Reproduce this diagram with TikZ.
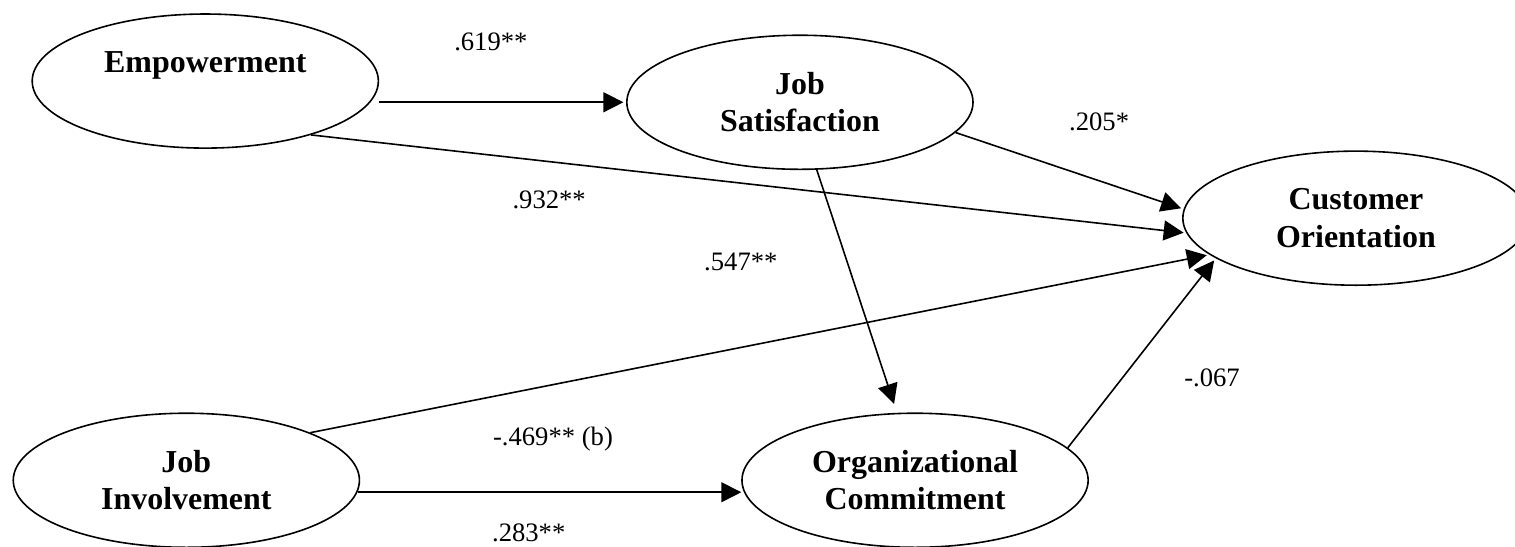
\documentclass[tikz,border=0pt]{standalone}
\usepackage{fontspec}
\setmainfont{Liberation Serif}
\usetikzlibrary{arrows.meta, shapes.geometric, positioning}

\begin{document}
\begin{tikzpicture}[shorten >=1pt, on grid, line width=0.6pt, >={Triangle[length=7.5pt, width=7.5pt]}, construct/.style={ellipse, draw, inner sep=0pt, minimum width=4.57cm, minimum height=1.77cm, align=center, font=\fontsize{12}{14}\selectfont\bfseries}, coef/.style={inner sep=0pt, font=\fontsize{10}{12}\selectfont}]

            \useasboundingbox (0,0) rectangle (20,-7.21);

            \node[construct] (Emp) at (2.71,-1.07) {Empowerment\\~};
            \node[construct, below right=0.28cm and 7.85cm of Emp] (JS) {Job\\Satisfaction};
            \node[construct, below right=1.53cm and 7.34cm of JS] (CO) {Customer\\Orientation};
            \node[construct, below left=5.27cm and 0.25cm of Emp] (JI) {Job\\Involvement};
            \node[construct, right=9.62cm of JI] (OC) {Organizational\\Commitment};

            \node[coef] (EmpJS) at (6.48,-0.55) {.619**};
            \node[coef] (EmpCO) at (7.25,-2.64) {.932**};
            \node[coef] (JSCO) at (14.51,-1.61) {.205*};
            \node[coef] (JSOC) at (9.78,-3.46) {.547**};
            \node[coef] (JICO) at (7.30,-5.80) {-.469** (b)};
            \node[coef] (JIOC) at (6.98,-7.03) {.283**};
            \node[coef] (OCCO) at (16.00,-4.99) {-.067};


            \path[->]
            (Emp.east |- JS.west) edge (JS.west)
            (Emp.-27) edge (CO.185)
            (JS.-11) edge (CO.177)
            (JS.-76) edge[shorten >=3.5pt] (OC.105)
            (JI.21) edge (CO.194)
            (JI.-4) edge (OC.184)
            (OC.12) edge (CO.196);

        \end{tikzpicture}
\end{document}
